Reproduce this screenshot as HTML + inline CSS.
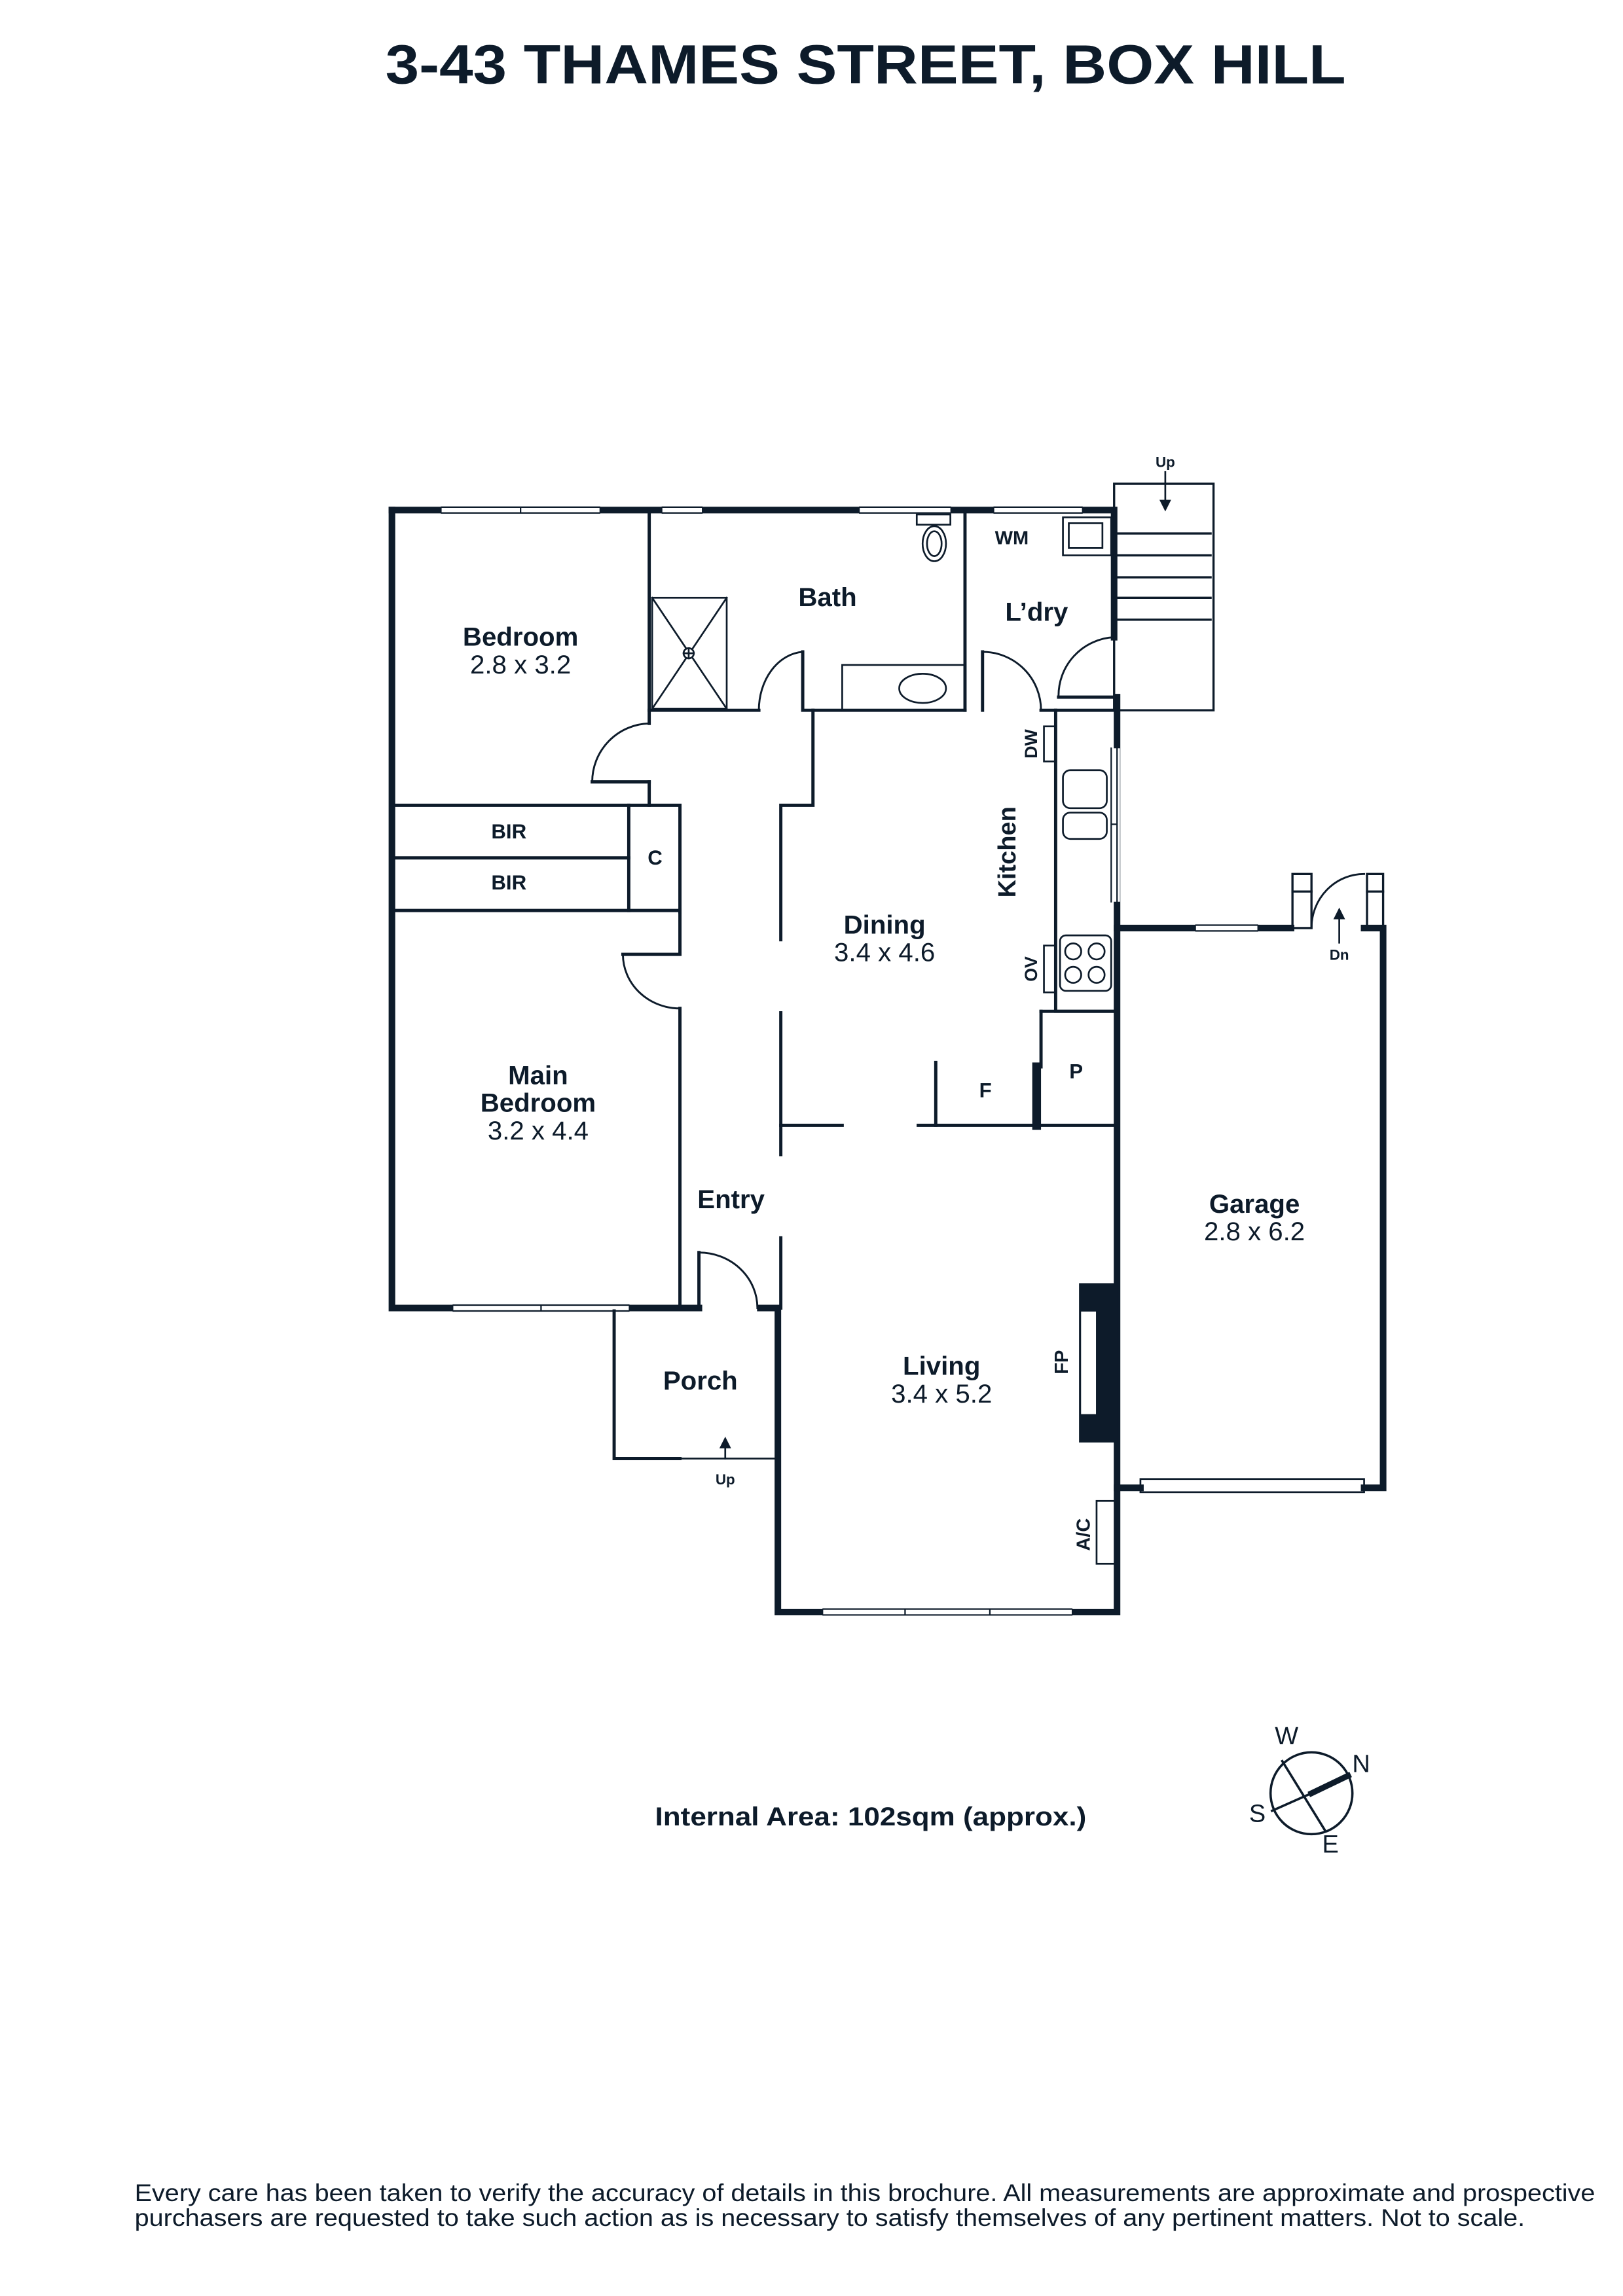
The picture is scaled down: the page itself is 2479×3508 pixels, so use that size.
<!DOCTYPE html>
<html><head><meta charset="utf-8"><style>
html,body{margin:0;padding:0;background:#fff;}
svg{display:block;}
text{font-family:"Liberation Sans",sans-serif;fill:#0d1b2a;}
.b{font-weight:bold;}
</style></head><body>
<svg width="2479" height="3508" viewBox="0 0 1110 1571" xmlns="http://www.w3.org/2000/svg">
<rect width="1110" height="1571" fill="#fff"/>
<text x="592" y="57" text-anchor="middle" class="b" font-size="38" textLength="657" lengthAdjust="spacingAndGlyphs">3-43 THAMES STREET, BOX HILL</text>

<g stroke="#0d1b2a" fill="none" stroke-linecap="square">
<!-- thick outer walls -->
<g stroke-width="4.5">
<path d="M268 349 H762 V436"/>
<path d="M268 349 V895 H478"/>
<path d="M520 895 H532 V1103 H764 V477"/>
<path d="M764 635 H883"/>
<path d="M933 635 H946 V1018 H933"/>
<path d="M764 1018 H780"/>
</g>
<!-- windows -->
<g stroke="none" fill="#fff">
<rect x="302" y="346" width="108" height="7"/>
<rect x="453" y="346" width="27" height="7"/>
<rect x="588" y="346" width="62" height="7"/>
<rect x="680" y="346" width="60" height="7"/>
<rect x="310" y="892" width="120" height="7"/>
<rect x="563" y="1100" width="170" height="7"/>
<rect x="818" y="632" width="42" height="7"/>
<rect x="759" y="512" width="7" height="105"/>
</g>
<g stroke-width="1">
<path d="M302 347 H410 M302 351 H410 M356 347 V351"/>
<path d="M453 347 H480 M453 351 H480"/>
<path d="M588 347 H650 M588 351 H650"/>
<path d="M680 347 H740 M680 351 H740"/>
<path d="M310 893 H430 M310 897 H430 M370 893 V897"/>
<path d="M563 1101 H733 M563 1105 H733 M619 1101 V1105 M677 1101 V1105"/>
<path d="M818 633 H860 M818 637 H860"/>
<path d="M760 512 V617 M764 512 V617 M760 564 H764"/>
</g>
<!-- interior walls -->
<g stroke-width="2.2">
<path d="M444 349 V495"/>
<path d="M444 535 H405"/>
<path d="M444 535 V551"/>
<path d="M444 486 H519"/>
<path d="M549 446 V486 H660"/>
<path d="M660 349 V486"/>
<path d="M672 446 V486"/>
<path d="M712 486 H762"/>
<path d="M724 477 H762"/>
<path d="M556 486 V551 H534 V643"/>
<path d="M534 693 V790"/>
<path d="M534 847 V895"/>
<path d="M534 770 H576 M628 770 H762"/>
<path d="M640 727 V770"/>
<path d="M268 551 H465 V624"/>
<path d="M268 587 H430"/>
<path d="M268 623 H465"/>
<path d="M430 551 V623"/>
<path d="M465 623 V653 H426"/>
<path d="M465 690 V895"/>
<path d="M478 857 V895"/>
<path d="M722 486 V692 H762"/>
<path d="M712 692 V730"/>
<path d="M712 692 H762"/>
<path d="M420 897 V998 H465"/>
</g>
<path d="M709 730 V770" stroke-width="6"/>
<path d="M465 998 H530" stroke-width="1.2"/>
<!-- door arcs -->
<g stroke-width="1.3">
<path d="M444 495 A40 40 0 0 0 405 535"/>
<path d="M549 446 A32 40 0 0 0 519 486"/>
<path d="M672 446 A40 40 0 0 1 712 486"/>
<path d="M762 436 A40 40 0 0 0 724 477"/>
<path d="M426 653 A39 37 0 0 0 465 690"/>
<path d="M478 857 A40 38 0 0 1 518 895"/>
<path d="M897 635 A36 37 0 0 1 933 598"/>
</g>
<!-- stairs -->
<g stroke-width="1.5">
<rect x="762" y="331" width="68" height="155"/>
<path d="M764 365 H828 M764 380 H828 M764 395 H828 M764 409 H828 M764 424 H828"/>
<rect x="884" y="598" width="13" height="37"/>
<path d="M884 610 H897"/>
<rect x="935" y="598" width="11" height="37"/>
<path d="M935 610 H946"/>
</g>
<!-- shower -->
<g stroke-width="1.2">
<rect x="446" y="409" width="51" height="76"/>
<path d="M446 409 L497 485 M497 409 L446 485"/>
<circle cx="471" cy="447" r="3.5" fill="#fff"/>
<path d="M467.5 447 H474.5 M471 443.5 V450.5"/>
<!-- toilet -->
<rect x="627" y="352" width="23" height="7"/>
<ellipse cx="639" cy="372" rx="8" ry="12"/>
<ellipse cx="639" cy="372" rx="5" ry="8.5"/>
<!-- bath -->
<rect x="576" y="455" width="84" height="31"/>
<ellipse cx="631" cy="471" rx="16" ry="10"/>
<!-- WM -->
<rect x="727" y="354" width="33" height="26"/>
<rect x="731" y="358" width="23" height="17"/>
<!-- kitchen -->
<rect x="714" y="497" width="8" height="24"/>
<rect x="727" y="527" width="30" height="26" rx="5"/>
<rect x="727" y="556" width="30" height="18" rx="5"/>
<rect x="714" y="647" width="8" height="32"/>
<rect x="725" y="640" width="35" height="38" rx="4"/>
<circle cx="734" cy="651" r="5.5"/><circle cx="750" cy="651" r="5.5"/>
<circle cx="734" cy="667" r="5.5"/><circle cx="750" cy="667" r="5.5"/>
<!-- A/C -->
<rect x="750" y="1027" width="13" height="43"/>
<!-- garage door -->
<rect x="780" y="1012" width="153" height="9"/>
</g>
<!-- fireplace -->
<rect x="738" y="878" width="26" height="109" fill="#0d1b2a" stroke="none"/>
<rect x="739" y="897" width="11" height="71" fill="#fff" stroke="#0d1b2a" stroke-width="0.8"/>
<!-- arrows -->
<g stroke-width="1.2">
<path d="M797 323 V347"/>
<path d="M916 645 V625"/>
<path d="M496 998 V987"/>
</g>
<g fill="#0d1b2a" stroke="none">
<path d="M793 342 L801 342 L797 350 Z"/>
<path d="M912 629 L920 629 L916 621 Z"/>
<path d="M492 991 L500 991 L496 983 Z"/>
</g>
<!-- compass -->
<circle cx="897" cy="1227" r="28" stroke-width="1.6"/>
<path d="M877 1205 L906 1252" stroke-width="1.6" transform="translate(-0 0)"/>
<path d="M897 1227 L870 1239" stroke-width="1.6"/>
<path d="M897 1227 L922 1215" stroke-width="4"/>
</g>

<g class="b" text-anchor="middle" dominant-baseline="middle">
<text x="356" y="437" font-size="18">Bedroom</text>
<text x="566" y="410" font-size="18">Bath</text>
<text x="709" y="420" font-size="18">L’dry</text>
<text x="692" y="369" font-size="13">WM</text>
<text x="348" y="570" font-size="14">BIR</text>
<text x="348" y="605" font-size="14">BIR</text>
<text x="448" y="588" font-size="14">C</text>
<text x="368" y="737" font-size="18">Main</text>
<text x="368" y="756" font-size="18">Bedroom</text>
<text x="605" y="634" font-size="18">Dining</text>
<text x="674" y="747" font-size="14">F</text>
<text x="736" y="734" font-size="14">P</text>
<text x="500" y="822" font-size="18">Entry</text>
<text x="858" y="825" font-size="18">Garage</text>
<text x="644" y="936" font-size="18">Living</text>
<text x="479" y="946" font-size="18">Porch</text>
<text x="797" y="317" font-size="10">Up</text>
<text x="916" y="654" font-size="10">Dn</text>
<text x="496" y="1013" font-size="10">Up</text>
<text transform="translate(690 583) rotate(-90)" font-size="17">Kitchen</text>
<text transform="translate(706 509) rotate(-90)" font-size="12">DW</text>
<text transform="translate(706 663) rotate(-90)" font-size="12">OV</text>
<text transform="translate(727 932) rotate(-90)" font-size="13">FP</text>
<text transform="translate(742 1050) rotate(-90)" font-size="13">A/C</text>
</g>
<g text-anchor="middle" dominant-baseline="middle" font-size="18">
<text x="356" y="456">2.8 x 3.2</text>
<text x="368" y="775">3.2 x 4.4</text>
<text x="605" y="653">3.4 x 4.6</text>
<text x="858" y="844">2.8 x 6.2</text>
<text x="644" y="955">3.4 x 5.2</text>
</g>
<g text-anchor="middle" dominant-baseline="middle" font-size="17">
<text x="880" y="1189">W</text>
<text x="931" y="1208">N</text>
<text x="860" y="1242">S</text>
<text x="910" y="1263">E</text>
</g>
<text x="448" y="1249" class="b" font-size="18" textLength="295" lengthAdjust="spacingAndGlyphs">Internal Area:  102sqm (approx.)</text>
<text x="92" y="1506" font-size="16.5" textLength="999" lengthAdjust="spacingAndGlyphs">Every care has been taken to verify the accuracy of details in this brochure. All measurements are approximate and prospective</text>
<text x="92" y="1523" font-size="16.5" textLength="951" lengthAdjust="spacingAndGlyphs">purchasers are requested to take such action as is necessary to satisfy themselves of any pertinent matters. Not to scale.</text>
</svg>
</body></html>
